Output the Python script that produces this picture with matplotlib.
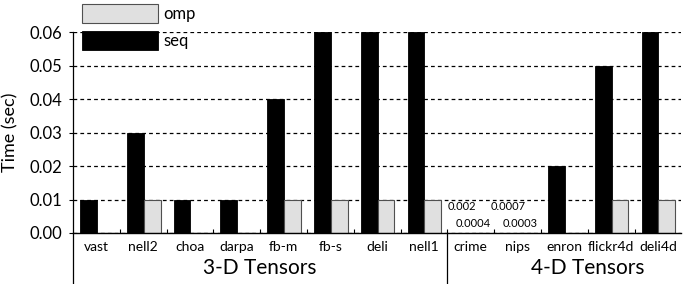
import numpy as np
import matplotlib.pyplot as plt
from matplotlib.lines import Line2D

plt.rcParams['font.family'] = ['Lato', 'DejaVu Sans']

categories = ['vast', 'nell2', 'choa', 'darpa', 'fb-m', 'fb-s', 'deli', 'nell1',
              'crime', 'nips', 'enron', 'flickr4d', 'deli4d']
seq = [0.01, 0.03, 0.01, 0.01, 0.04, 0.06, 0.06, 0.06, 0.0, 0.0, 0.02, 0.05, 0.06]
omp = [0.0, 0.01, 0.0, 0.0, 0.01, 0.01, 0.01, 0.01, 0.0, 0.0, 0.0, 0.01, 0.01]
# tiny values written as text instead of bars
small_idx = [8, 9]
seq_small = ['0.002', '0.0007']
omp_small = ['0.0004', '0.0003']
groups = ['3-D Tensors', '4-D Tensors']
group_span = [(0, 7), (8, 12)]

x = np.arange(len(categories))
w = 0.36

fig = plt.figure(figsize=(6.85, 2.84), dpi=100)
ax = fig.add_axes([0.1066, 0.1796, 0.888, 0.7074])

ax.set_axisbelow(True)
ax.yaxis.grid(True, linestyle=(0, (3, 2.5)), color='black', linewidth=0.9)
ax.bar(x - 0.17, seq, w, color='black', edgecolor='black', linewidth=0.6, label='seq')
ax.bar(x + 0.19, omp, w, color='#e0e0e0', edgecolor='#505050', linewidth=0.8, label='omp')

for i, s1, s2 in zip(small_idx, seq_small, omp_small):
    ax.text(i - 0.2, 0.0078, s1, fontsize=8, ha='center', va='center')
    ax.text(i + 0.05, 0.0029, s2, fontsize=8, ha='center', va='center')

ax.set_xlim(-0.5, 12.5)
ax.set_ylim(0, 0.06)
ax.set_yticks(np.arange(0, 0.061, 0.01))
ax.set_yticklabels(['%.2f' % v for v in np.arange(0, 0.061, 0.01)], fontsize=12)
ax.tick_params(axis='y', length=3, width=0.8, pad=5)
ax.set_xticks(x)
ax.set_xticklabels(categories, fontsize=10)
ax.tick_params(axis='x', length=0, pad=6)
ax.set_xticks(np.arange(0.5, 12, 1), minor=True)
ax.tick_params(axis='x', which='minor', direction='in', length=3, width=0.8)

for s in ['top', 'right']:
    ax.spines[s].set_visible(False)
ax.spines['bottom'].set_linewidth(1.0)
ax.spines['left'].set_linewidth(0.9)
ax.spines['left'].set_bounds(0, 0.06)

ax.set_ylabel('Time (sec)', fontsize=13, labelpad=8)

# left spine continues down, separator between groups
fig.add_artist(Line2D([0.1066, 0.1066], [0.0, 0.1796], color='black', lw=0.9))
sep = ax.transData.transform((7.5, 0))
sep_x = fig.transFigure.inverted().transform(sep)[0]
fig.add_artist(Line2D([sep_x, sep_x], [0.0, 0.1796], color='black', lw=0.9))

for name, (a, b) in zip(groups, group_span):
    ax.text((a + b) / 2 + (0.5 if a > 0 else 0), -0.0105, name, fontsize=15,
            ha='center', va='center', transform=ax.transData)

h, l = ax.get_legend_handles_labels()
ax.legend(h[::-1], l[::-1], loc='upper left', bbox_to_anchor=(0.015, 1.142),
          frameon=False, fontsize=12, handlelength=4.55, handleheight=1.4,
          handletextpad=0.3, labelspacing=0.5, borderaxespad=0, borderpad=0)

fig.savefig('out.png', dpi=100)
